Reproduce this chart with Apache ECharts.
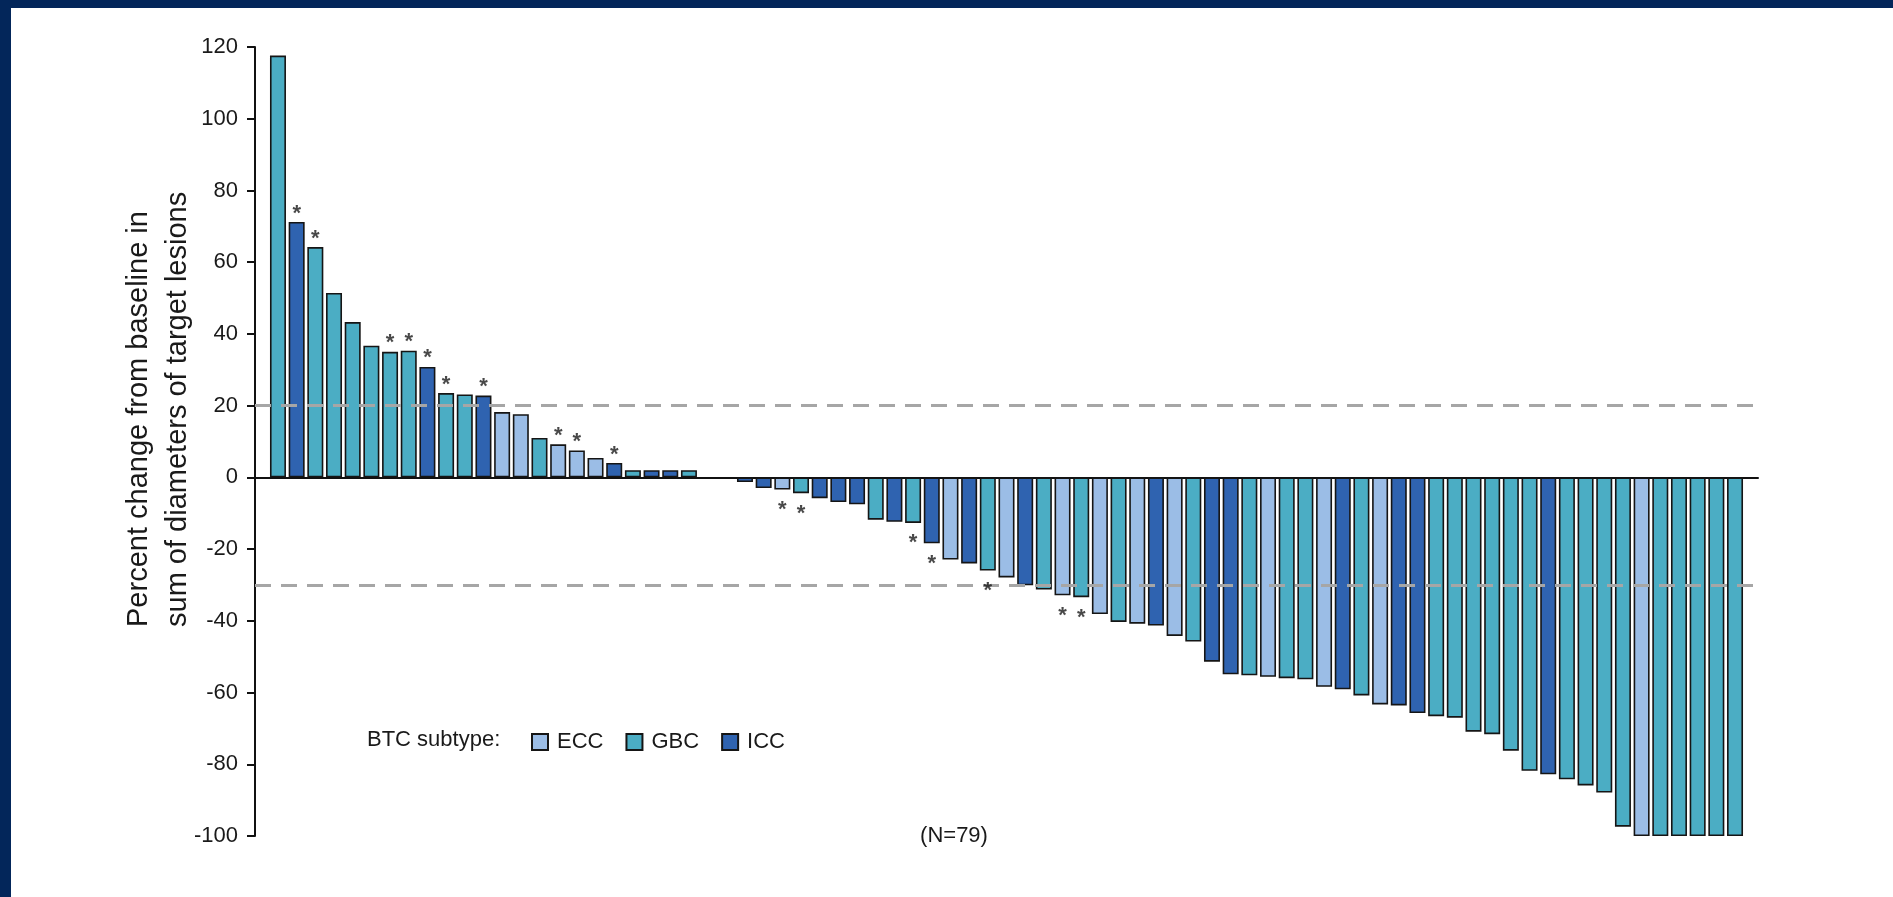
<!DOCTYPE html>
<html>
<head>
<meta charset="utf-8">
<title>Best percent change in target lesions by BTC subtype</title>
<script src="https://cdn.jsdelivr.net/npm/echarts@6/dist/echarts.min.js"></script>
<style>
  html, body { margin: 0; padding: 0; background: #ffffff; }
  #chart { width: 1893px; height: 897px; }
</style>
</head>
<body>
<div id="chart"></div>
<script>
// Best percent change from baseline per patient, sorted (N = 79)
const changes = [
  117.6, 71.2, 64.2, 51.4, 43.3, 36.7, 35.0, 35.3, 30.8, 23.5,
  23.1, 22.8, 18.2, 17.6, 11.0, 9.2, 7.5, 5.4, 4.0, 2.0,
  2.0, 2.0, 2.0, 0, 0, -1.3, -3.0, -3.4, -4.4, -5.8,
  -6.9, -7.5, -11.8, -12.4, -12.7, -18.4, -22.9, -24.0, -26.0, -27.9,
  -30.1, -31.3, -32.9, -33.4, -38.1, -40.3, -40.8, -41.3, -44.2, -45.8,
  -51.4, -54.9, -55.2, -55.6, -56.0, -56.3, -58.4, -59.1, -60.8, -63.3,
  -63.6, -65.7, -66.6, -67.0, -70.9, -71.6, -76.2, -81.8, -82.8, -84.2,
  -85.9, -87.9, -97.4, -100, -100, -100, -100, -100, -100
];

// BTC subtype per patient (same order as changes); null = no measurable change drawn
const subtypes = [
  'GBC', 'ICC', 'GBC', 'GBC', 'GBC', 'GBC', 'GBC', 'GBC', 'ICC', 'GBC',
  'GBC', 'ICC', 'ECC', 'ECC', 'GBC', 'ECC', 'ECC', 'ECC', 'ICC', 'GBC',
  'ICC', 'ICC', 'GBC', null, null, 'ICC', 'ICC', 'ECC', 'GBC', 'ICC',
  'ICC', 'ICC', 'GBC', 'ICC', 'GBC', 'ICC', 'ECC', 'ICC', 'GBC', 'ECC',
  'ICC', 'GBC', 'ECC', 'GBC', 'ECC', 'GBC', 'ECC', 'ICC', 'ECC', 'GBC',
  'ICC', 'ICC', 'GBC', 'ECC', 'GBC', 'GBC', 'ECC', 'ICC', 'GBC', 'ECC',
  'ICC', 'ICC', 'GBC', 'GBC', 'GBC', 'GBC', 'GBC', 'GBC', 'ICC', 'GBC',
  'GBC', 'GBC', 'GBC', 'ECC', 'GBC', 'GBC', 'GBC', 'GBC', 'GBC'
];

// Patients flagged with an asterisk
const starred = [1, 2, 6, 7, 8, 9, 11, 15, 16, 18, 27, 28, 34, 35, 38, 42, 43];

// Legend categories and their fills
const subtypeNames = ['ECC', 'GBC', 'ICC'];
const subtypeColors = ['#9bbde6', '#4badc4', '#2f63b0'];

// Reference thresholds (+20% progression, -30% partial response)
const thresholds = [20, -30];

// Y axis range and step
const yMin = -100, yMax = 120, yStep = 20;

const FONT = 'Liberation Sans, Arial, sans-serif';

const chart = echarts.init(document.getElementById('chart'), null, { renderer: 'canvas' });

const barSeries = subtypeNames.map((name, k) => ({
  name: name,
  type: 'bar',
  barWidth: 16,
  barGap: '-100%',
  itemStyle: { color: subtypeColors[k], borderColor: '#151515', borderWidth: 1.6 },
  data: changes
    .map((v, i) => (subtypes[i] === name ? [i, v] : null))
    .filter(d => d !== null),
  markLine: k === 0 ? {
    silent: true,
    symbol: 'none',
    label: { show: false },
    lineStyle: { color: '#a6a6a6', width: 3, type: [16, 10] },
    data: thresholds.map(t => ({ yAxis: t }))
  } : undefined,
  z: 3
}));

const starSeries = {
  name: 'flag',
  type: 'scatter',
  symbol: 'circle',
  symbolSize: 1,
  itemStyle: { color: 'rgba(0,0,0,0)' },
  silent: true,
  z: 5,
  data: starred.map(i => ({
    value: [i, changes[i]],
    label: {
      show: true,
      formatter: '*',
      position: changes[i] >= 0 ? 'top' : 'bottom',
      distance: changes[i] >= 0 ? -3 : 9,
      fontSize: 22,
      fontWeight: 'bold',
      fontFamily: FONT,
      color: '#1a1a1a'
    }
  }))
};

const option = {
  animation: false,
  backgroundColor: '#ffffff',
  textStyle: { fontFamily: FONT },
  grid: { left: 255, right: 135, top: 47, bottom: 61, containLabel: false },
  legend: {
    data: subtypeNames,
    left: 531,
    top: 731,
    padding: 0,
    itemWidth: 16,
    itemHeight: 16,
    itemGap: 22,
    icon: 'rect',
    selectedMode: false,
    textStyle: { fontSize: 22, color: '#1a1a1a', padding: [0, 0, 0, 4] }
  },
  xAxis: {
    type: 'value',
    min: -1.23,
    max: 79.23,
    axisLine: { show: true, onZero: true, lineStyle: { color: '#111111', width: 2 } },
    axisTick: { show: false },
    axisLabel: { show: false },
    splitLine: { show: false }
  },
  yAxis: {
    type: 'value',
    min: yMin,
    max: yMax,
    interval: yStep,
    axisLine: { show: true, onZero: false, lineStyle: { color: '#111111', width: 2 } },
    axisTick: { show: true, inside: false, length: 8, lineStyle: { color: '#111111', width: 2 } },
    axisLabel: { fontSize: 22, color: '#1a1a1a', margin: 17 },
    splitLine: { show: false }
  },
  graphic: [
    // dark frame along the top and left edges
    { type: 'rect', left: 0, top: 0, shape: { width: 1893, height: 8 }, style: { fill: '#03265a' }, z: 100 },
    { type: 'rect', left: 0, top: 0, shape: { width: 11, height: 897 }, style: { fill: '#03265a' }, z: 100 },
    // axis title, two left-aligned rotated lines
    {
      type: 'text', x: 139, y: 627, rotation: Math.PI / 2,
      style: { text: 'Percent change from baseline in', fontSize: 29, fill: '#1a1a1a',
               fontFamily: FONT, align: 'left', verticalAlign: 'middle' }
    },
    {
      type: 'text', x: 178, y: 627, rotation: Math.PI / 2,
      style: { text: 'sum of diameters of target lesions', fontSize: 29, fill: '#1a1a1a',
               fontFamily: FONT, align: 'left', verticalAlign: 'middle' }
    },
    {
      type: 'text', x: 367, y: 740,
      style: { text: 'BTC subtype:', fontSize: 22, fill: '#1a1a1a',
               fontFamily: FONT, align: 'left', verticalAlign: 'middle' }
    },
    {
      type: 'text', x: 954, y: 836,
      style: { text: '(N=' + changes.length + ')', fontSize: 22, fill: '#1a1a1a',
               fontFamily: FONT, align: 'center', verticalAlign: 'middle' }
    }
  ],
  series: barSeries.concat([starSeries])
};

chart.setOption(option);
</script>
</body>
</html>
